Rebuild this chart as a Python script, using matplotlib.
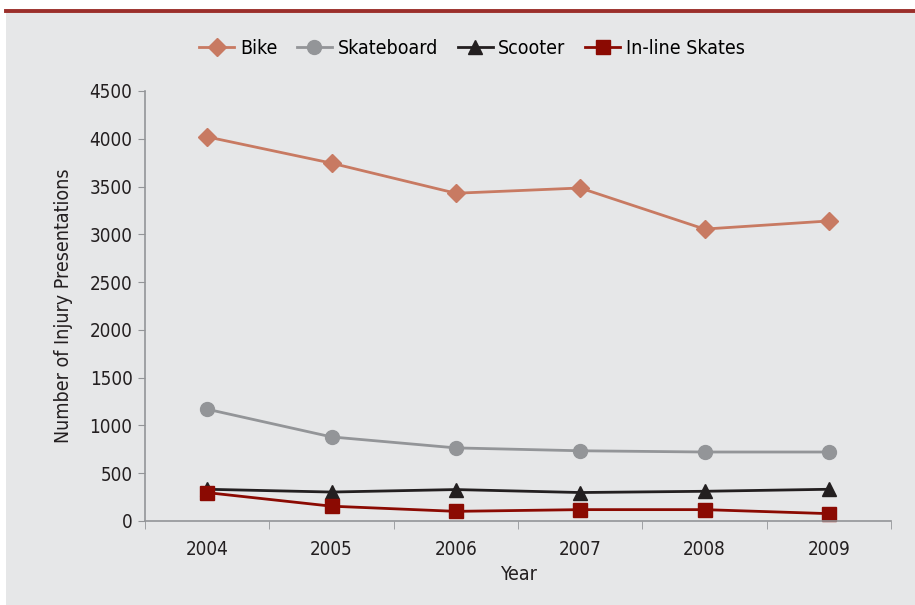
import matplotlib
matplotlib.use("Agg")
import matplotlib.pyplot as plt
from matplotlib.patches import Rectangle
from matplotlib.lines import Line2D
import numpy as np

plt.rcParams['font.family'] = ['DejaVu Sans']
plt.rcParams['font.stretch'] = 'condensed'

years = ["2004", "2005", "2006", "2007", "2008", "2009"]
bike = [4020, 3745, 3430, 3485, 3055, 3140]
skateboard = [1170, 880, 765, 735, 722, 722]
scooter = [332, 303, 329, 298, 311, 332]
inline_skates = [297, 155, 101, 119, 119, 77]

yticks = list(range(0, 4501, 500))

bg = "#e6e7e8"
fig = plt.figure(figsize=(9.15, 6.05), dpi=100)
fig.patch.set_facecolor("white")
fig.add_artist(Rectangle((6 / 915, 0), 1 - 6 / 915, 1 - 12 / 605,
                         transform=fig.transFigure, facecolor=bg,
                         edgecolor="none", zorder=-2))
fig.add_artist(Line2D([6 / 915, 1], [1 - 11 / 605, 1 - 11 / 605],
                      transform=fig.transFigure, color="#9b2f2b", lw=2.8))

ax = fig.add_axes([145 / 915, 1 - 521 / 605, 746 / 915, 430 / 605])
ax.set_facecolor(bg)
x = np.arange(len(years))

series = [
    ("Bike", bike, "#c87a62", "D", 9),
    ("Skateboard", skateboard, "#939598", "o", 10),
    ("Scooter", scooter, "#231f20", "^", 10),
    ("In-line Skates", inline_skates, "#8b0a02", "s", 10),
]
for name, vals, col, mk, ms in series:
    ax.plot(x, vals, color=col, lw=2.0, marker=mk, ms=ms, label=name,
            clip_on=False)

ax.set_xlim(-0.5, len(years) - 0.5)
ax.set_ylim(0, 4500)
ax.set_yticks(yticks)
ax.set_yticklabels([str(v) for v in yticks], fontsize=13.5, color="#231f20")
ax.set_xticks(x)
ax.set_xticklabels(years, fontsize=13.5, color="#231f20")
ax.set_xticks(np.arange(-0.5, len(years)), minor=True)
ax.tick_params(axis="x", which="major", length=0, pad=14)
ax.tick_params(axis="x", which="minor", length=6, color="#939598")
ax.tick_params(axis="y", length=5, color="#939598", pad=4)
for s in ["top", "right"]:
    ax.spines[s].set_visible(False)
for s in ["left", "bottom"]:
    ax.spines[s].set_color("#939598")
    ax.spines[s].set_linewidth(1.2)

ax.set_xlabel("Year", fontsize=14, color="#231f20", labelpad=4)
ax.set_ylabel("Number of Injury Presentations", fontsize=14, color="#231f20",
              labelpad=12)

fig.legend(loc="center", bbox_to_anchor=(472 / 915, 1 - 48 / 605), ncol=4,
           frameon=False, fontsize=14, handlelength=1.8, handletextpad=0.3,
           columnspacing=1.0)

fig.savefig("out.png", dpi=100, facecolor=fig.get_facecolor())
